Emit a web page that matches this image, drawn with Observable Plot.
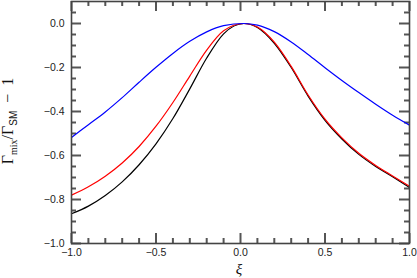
<!DOCTYPE html>
<html><head><meta charset="utf-8">
<script src="https://cdn.jsdelivr.net/npm/d3@7"></script>
<script src="https://cdn.jsdelivr.net/npm/@observablehq/plot@0.6"></script>
<style>body{margin:0;background:#fff;overflow:hidden}</style>
</head><body><div id="chart"></div>
<script>
const xi    = [-1.0, -0.9, -0.8, -0.7, -0.6, -0.5, -0.4, -0.3, -0.2, -0.1, 0.02, 0.1, 0.2, 0.3, 0.4, 0.5, 0.6, 0.7, 0.8, 0.9, 1.0];
const black = [-0.865, -0.83, -0.782, -0.72, -0.642, -0.547, -0.432, -0.297, -0.157, -0.047, 0, -0.018, -0.09, -0.20, -0.33, -0.44, -0.525, -0.595, -0.65, -0.697, -0.745];
const red   = [-0.78, -0.742, -0.694, -0.634, -0.559, -0.467, -0.359, -0.239, -0.121, -0.033, 0, -0.016, -0.085, -0.195, -0.325, -0.435, -0.52, -0.59, -0.645, -0.693, -0.74];
const blue  = [-0.518, -0.46, -0.402, -0.337, -0.267, -0.199, -0.136, -0.081, -0.038, -0.01, 0, -0.007, -0.037, -0.084, -0.141, -0.201, -0.259, -0.314, -0.367, -0.417, -0.462];

const xMajor = [-1.0, -0.5, 0.0, 0.5, 1.0];
const xMinor = [-0.9, -0.8, -0.7, -0.6, -0.4, -0.3, -0.2, -0.1, 0.1, 0.2, 0.3, 0.4, 0.6, 0.7, 0.8, 0.9];
const yMajor = [-1.0, -0.8, -0.6, -0.4, -0.2, 0.0];
const yMinor = [-0.95, -0.9, -0.85, -0.75, -0.7, -0.65, -0.55, -0.5, -0.45, -0.35, -0.3, -0.25, -0.15, -0.1, -0.05, 0.05];

const lineColors = {black: "#000000", red: "#ff0000", blue: "#0000ff"};
const seriesNames = ["black", "red", "blue"];
const seriesValues = [black, red, blue];
const rows = seriesNames.flatMap((name, k) => seriesValues[k].map((v, i) => ({x: xi[i], y: v, s: name})));

const W = 417, H = 278, ML = 71, MR = 8, MT = 1, MB = 35;
const innerW = W - ML - MR, innerH = H - MT - MB;
const major = 10, minor = 5;
const fmt = d3.format(".1f");
const tickColor = "#555555";
const tw = 2;

const chart = Plot.plot({
  width: W,
  height: H,
  marginLeft: ML,
  marginRight: MR,
  marginTop: MT,
  marginBottom: MB,
  x: {domain: [-1, 1]},
  y: {domain: [-1, 0.1]},
  marks: [
    Plot.axisX(xMajor, {anchor: "bottom", tickSize: 0, tickPadding: 5, tickFormat: fmt, label: null, fontSize: 10.5, fill: "#222", fontFamily: "Liberation Sans, Arial, sans-serif"}),
    Plot.axisY(yMajor, {anchor: "left", tickSize: 0, tickPadding: 7, tickFormat: fmt, label: null, fontSize: 10.5, fill: "#222", fontFamily: "Liberation Sans, Arial, sans-serif"}),
    // inward ticks on all four sides
    Plot.ruleX(xMajor, {x: d => d, insetTop: innerH - major, stroke: tickColor, strokeWidth: tw}),
    Plot.ruleX(xMinor, {x: d => d, insetTop: innerH - minor, stroke: tickColor, strokeWidth: tw}),
    Plot.ruleX(xMajor, {x: d => d, insetBottom: innerH - major, stroke: tickColor, strokeWidth: tw}),
    Plot.ruleX(xMinor, {x: d => d, insetBottom: innerH - minor, stroke: tickColor, strokeWidth: tw}),
    Plot.ruleY(yMajor, {y: d => d, insetRight: innerW - major, stroke: tickColor, strokeWidth: tw}),
    Plot.ruleY(yMinor, {y: d => d, insetRight: innerW - minor, stroke: tickColor, strokeWidth: tw}),
    Plot.ruleY(yMajor, {y: d => d, insetLeft: innerW - major, stroke: tickColor, strokeWidth: tw}),
    Plot.ruleY(yMinor, {y: d => d, insetLeft: innerW - minor, stroke: tickColor, strokeWidth: tw}),
    Plot.line(rows, {x: "x", y: "y", z: "s", stroke: d => lineColors[d.s], curve: "monotone-x", strokeWidth: 1.2}),
    Plot.frame({stroke: "#444", strokeWidth: 1.6})
  ]
});

const svg = d3.select(chart);
const yl = svg.append("text")
  .attr("transform", "translate(13,121) rotate(-90)")
  .attr("text-anchor", "middle")
  .attr("font-family", "Liberation Serif, Times New Roman, serif")
  .attr("font-size", 16)
  .attr("fill", "#111");
yl.append("tspan").text("Γ");
yl.append("tspan").attr("font-size", 10).attr("dy", 4).text("mix");
yl.append("tspan").attr("dy", -4).text("/Γ");
yl.append("tspan").attr("font-size", 10).attr("dy", 4).attr("font-family", "Liberation Sans, Arial, sans-serif").text("SM");
yl.append("tspan").attr("dy", -4).text("  −  1");
svg.append("text")
  .attr("x", 239).attr("y", 274)
  .attr("text-anchor", "middle")
  .attr("font-family", "Liberation Serif, Times New Roman, serif")
  .attr("font-style", "italic")
  .attr("font-size", 15)
  .attr("fill", "#111")
  .text("ξ");

document.getElementById("chart").appendChild(chart);
</script>
</body></html>
